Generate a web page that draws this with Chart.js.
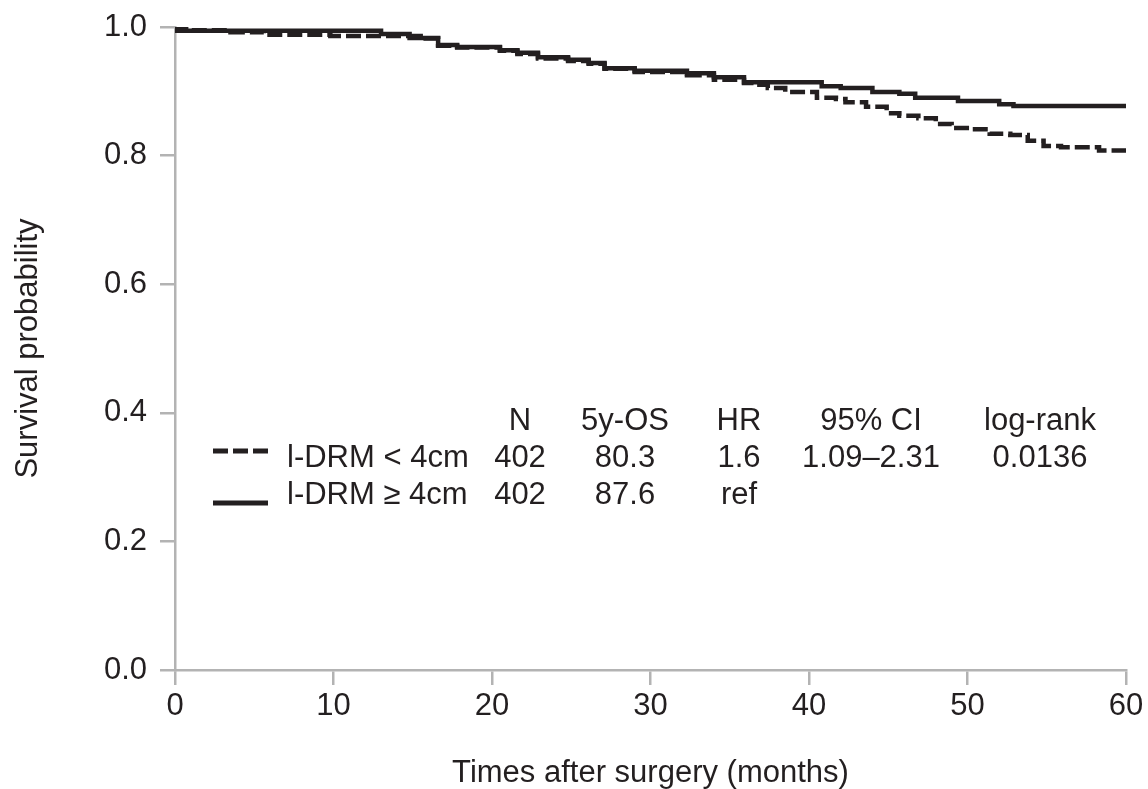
<!DOCTYPE html>
<html>
<head>
<meta charset="utf-8">
<script src="https://cdn.jsdelivr.net/npm/chart.js@4"></script>
<style>
  html, body { margin: 0; padding: 0; background: #fff; }
  #wrap { width: 1148px; height: 789px; }
</style>
</head>
<body>
<div id="wrap"><canvas id="c" width="1148" height="789"></canvas></div>
<script>
// ---- Data ----
const timesGe4  = [0, 13.0, 14.8, 16.6, 17.8, 20.5, 21.6, 22.9, 24.8, 26.1, 27.1, 29.0, 32.3, 34.0, 35.9, 40.8, 42.0, 44.0, 45.7, 46.7, 49.4, 52.0, 52.9, 56.9, 60];
const survGe4   = [1.0, 0.994, 0.989, 0.983, 0.972, 0.969, 0.964, 0.960, 0.953, 0.949, 0.944, 0.936, 0.932, 0.928, 0.922, 0.914, 0.908, 0.905, 0.899, 0.896, 0.890, 0.885, 0.880, 0.877, 0.877];

const timesLt4  = [0, 1.0, 3.5, 5.6, 9.8, 15.5, 16.6, 17.8, 20.5, 21.6, 22.9, 24.8, 26.1, 27.1, 29.0, 32.3, 34.0, 35.9, 36.5, 37.4, 38.5, 40.5, 41.7, 42.3, 43.6, 44.9, 45.7, 46.9, 48.0, 49.0, 50.1, 51.4, 52.7, 53.8, 54.8, 55.9, 58.3, 59.6, 60];
const survLt4   = [1.0, 0.9975, 0.995, 0.992, 0.988, 0.986, 0.982, 0.971, 0.968, 0.963, 0.958, 0.951, 0.947, 0.943, 0.935, 0.930, 0.925, 0.918, 0.913, 0.910, 0.905, 0.899, 0.890, 0.888, 0.883, 0.876, 0.866, 0.862, 0.858, 0.849, 0.843, 0.841, 0.834, 0.832, 0.823, 0.815, 0.813, 0.808, 0.808];

const yTicks = [0.0, 0.2, 0.4, 0.6, 0.8, 1.0];
const xTicks = [0, 10, 20, 30, 40, 50, 60];

const tableHeader = ["N", "5y-OS", "HR", "95% CI", "log-rank"];
const groupLabels = ["l-DRM < 4cm", "l-DRM \u2265 4cm"];
const groupN      = ["402", "402"];
const groupOS     = ["80.3", "87.6"];
const groupHR     = ["1.6", "ref"];
const groupCI     = ["1.09\u20132.31", ""];
const groupP      = ["0.0136", ""];

const xTitle = "Times after surgery (months)";
const yTitle = "Survival probability";

// ---- Styles ----
const INK = '#231f20';
const AXIS = '#b3b3b3';
const FONT = "'Liberation Sans', Arial, Helvetica, sans-serif";
const FS = 31;

function toPoints(ts, vs) { return ts.map((t, i) => ({ x: t, y: vs[i] })); }

const tablePlugin = {
  id: 'kmTable',
  afterDraw(chart) {
    const ctx = chart.ctx;
    ctx.save();
    ctx.fillStyle = INK;
    ctx.strokeStyle = INK;
    ctx.font = FS + 'px ' + FONT;
    ctx.textBaseline = 'middle';
    const colX = [520, 625, 739, 871, 1040];
    const rowY = [421, 458, 495];
    ctx.textAlign = 'center';
    tableHeader.forEach((h, i) => ctx.fillText(h, colX[i], rowY[0]));
    const cols = [groupN, groupOS, groupHR, groupCI, groupP];
    for (let r = 0; r < 2; r++) {
      ctx.textAlign = 'left';
      ctx.fillText(groupLabels[r], 287, rowY[r + 1]);
      ctx.textAlign = 'center';
      cols.forEach((c, i) => { if (c[r]) ctx.fillText(c[r], colX[i], rowY[r + 1]); });
    }
    // legend line samples
    ctx.lineWidth = 5;
    ctx.setLineDash([15, 5]);
    ctx.beginPath(); ctx.moveTo(213, 451); ctx.lineTo(268, 451); ctx.stroke();
    ctx.setLineDash([]);
    ctx.beginPath(); ctx.moveTo(213, 503); ctx.lineTo(268, 503); ctx.stroke();
    ctx.restore();
  }
};

function zeroPad(s) { s.paddingTop = 0; s.paddingBottom = 0; s.paddingLeft = 0; s.paddingRight = 0; }

new Chart(document.getElementById('c'), {
  type: 'line',
  data: {
    datasets: [
      {
        label: groupLabels[0],
        data: toPoints(timesLt4, survLt4),
        stepped: 'after',
        borderColor: INK,
        borderWidth: 4.5,
        borderDash: [15, 5],
        pointRadius: 0,
        fill: false
      },
      {
        label: groupLabels[1],
        data: toPoints(timesGe4, survGe4),
        stepped: 'after',
        borderColor: INK,
        borderWidth: 4.5,
        pointRadius: 0,
        fill: false
      }
    ]
  },
  options: {
    responsive: false,
    animation: false,
    devicePixelRatio: 1,
    layout: { padding: { left: 0, right: 22, top: 27, bottom: 0 } },
    plugins: { legend: { display: false }, tooltip: { enabled: false } },
    scales: {
      x: {
        type: 'linear',
        min: 0, max: 60,
        afterBuildTicks(s) { s.ticks = xTicks.map(v => ({ value: v })); },
        afterFit(s) { s.height = 119; zeroPad(s); },
        ticks: { color: INK, font: { size: FS, family: FONT }, padding: 3, callback: v => String(v), maxRotation: 0 },
        grid: { display: true, drawOnChartArea: false, drawTicks: true, tickLength: 15, color: AXIS, lineWidth: 2.5 },
        border: { display: true, color: AXIS, width: 2.5 },
        title: { display: true, text: xTitle, color: INK, font: { size: FS, family: FONT }, padding: { top: 0, bottom: -3 } }
      },
      y: {
        type: 'linear',
        min: 0, max: 1,
        afterBuildTicks(s) { s.ticks = yTicks.map(v => ({ value: v })); },
        afterFit(s) { s.width = 175; zeroPad(s); },
        ticks: { color: INK, font: { size: FS, family: FONT }, padding: 13, callback: v => Number(v).toFixed(1) },
        grid: { display: true, drawOnChartArea: false, drawTicks: true, tickLength: 15, color: AXIS, lineWidth: 2.5 },
        border: { display: true, color: AXIS, width: 2.5 },
        title: { display: true, text: yTitle, color: INK, font: { size: FS, family: FONT }, padding: { top: 10, bottom: 0 } }
      }
    }
  },
  plugins: [tablePlugin]
});
</script>
</body>
</html>
